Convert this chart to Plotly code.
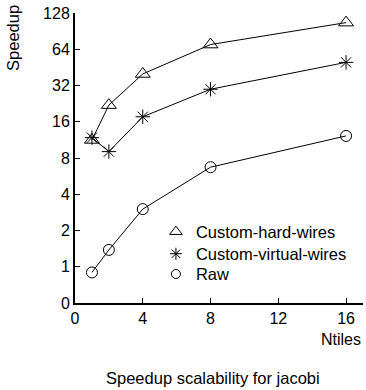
import plotly.graph_objects as go

ntiles = [1, 2, 4, 8, 16]
hard_wires = [11.3, 22.0, 39.9, 70.0, 106.5]
virtual_wires = [11.8, 9.04, 17.6, 29.8, 49.8]
raw = [0.897, 1.38, 3.01, 6.71, 12.2]

series_names = ["Custom-hard-wires", "Custom-virtual-wires", "Raw"]
series_values = [hard_wires, virtual_wires, raw]
symbols = ["triangle-up-open", "asterisk-open", "circle-open"]
sizes = [13, 12, 11]

x_ticks = [0, 4, 8, 12, 16]
y_tickvals = [0.5, 1, 2, 4, 8, 16, 32, 64, 128]
y_ticktext = ["0", "1", "2", "4", "8", "16", "32", "64", "128"]

FONT = "Liberation Sans, Arial, sans-serif"
fig = go.Figure()
for name, vals, sym, sz in zip(series_names, series_values, symbols, sizes):
    fig.add_trace(go.Scatter(
        x=ntiles, y=vals, mode="lines+markers", showlegend=False,
        line=dict(color="black", width=1),
        marker=dict(symbol=sym, size=sz, color="black", line=dict(width=1, color="black")),
    ))
legend_ids = ["legend", "legend2", "legend3"]
for name, sym, sz, lg in zip(series_names, symbols, sizes, legend_ids):
    fig.add_trace(go.Scatter(
        x=[None], y=[None], mode="markers", name=name, legend=lg,
        marker=dict(symbol=sym, size=sz - 2, color="black", line=dict(width=1, color="black")),
    ))

leg_y = [0.245, 0.169, 0.099]
leg_common = dict(x=0.281, xanchor="left", yanchor="middle",
                  bgcolor="rgba(0,0,0,0)", font=dict(size=16.5))

fig.update_layout(
    width=366, height=390,
    margin=dict(l=75, r=3, t=13, b=87),
    paper_bgcolor="white", plot_bgcolor="white",
    font=dict(family=FONT, size=16, color="black"),
    legend=dict(y=leg_y[0], **leg_common),
    legend2=dict(y=leg_y[1], **leg_common),
    legend3=dict(y=leg_y[2], **leg_common),
    xaxis=dict(range=[0, 17], tickvals=x_ticks, ticks="inside", ticklen=5,
               tickcolor="black", showline=True, linecolor="black", linewidth=2,
               showgrid=False, zeroline=False, tickfont=dict(size=16)),
    yaxis=dict(type="log", range=[-0.30103, 2.10721], tickvals=y_tickvals,
               ticktext=y_ticktext, ticks="inside", ticklen=5, tickcolor="black",
               showline=True, linecolor="black", linewidth=2, showgrid=False,
               zeroline=False, tickfont=dict(size=16)),
    annotations=[
        dict(text="Speedup", xref="paper", yref="paper", x=-0.215, y=1.035,
             xanchor="center", yanchor="top", textangle=-90, showarrow=False,
             font=dict(size=16.5)),
        dict(text="Ntiles", xref="paper", yref="paper", x=1.0, y=-0.09,
             xanchor="right", yanchor="top", showarrow=False, font=dict(size=16)),
        dict(text="Speedup scalability for jacobi", xref="paper", yref="paper",
             x=0.48, y=-0.22, xanchor="center", yanchor="top", showarrow=False,
             font=dict(size=16.5)),
    ],
)
fig.write_html("out.html")
